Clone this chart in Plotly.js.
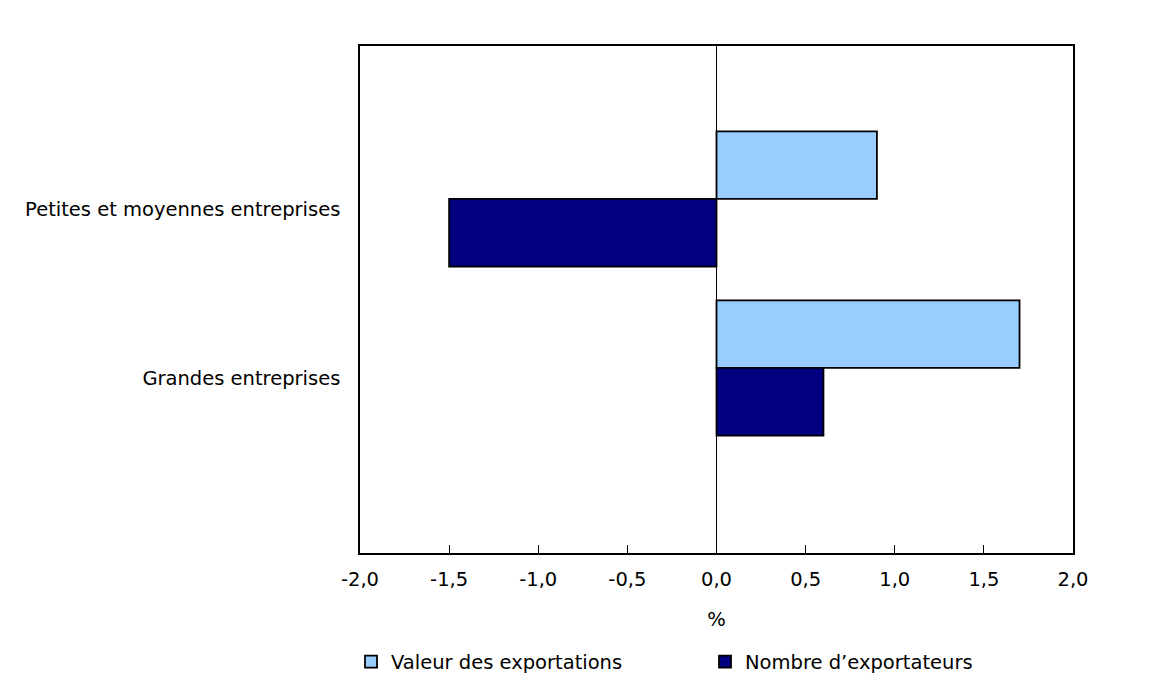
<!DOCTYPE html>
<html>
<head>
<meta charset="utf-8">
<script src="https://cdn.plot.ly/plotly-3.0.1.min.js"></script>
<style>
  html, body { margin: 0; padding: 0; background: #fff; }
  #chart { width: 1161px; height: 684px; }
</style>
</head>
<body>
<div id="chart"></div>
<script>
// catégories (de haut en bas) et variations en %
var categories = ["Petites et moyennes entreprises", "Grandes entreprises"];
var valeurExportations = [0.9, 1.7];
var nombreExportateurs = [-1.5, 0.6];
var seriesNames = ["Valeur des exportations", "Nombre d\u2019exportateurs"];
var xTicks = [-2, -1.5, -1, -0.5, 0, 0.5, 1, 1.5, 2];

var font = "DejaVu Sans, Verdana, sans-serif";
var fs = 19.5;

// étiquettes à la française, trait d'union comme signe moins
var xTickText = xTicks.map(function (v) {
  return v.toFixed(1).replace(".", ",");
});

var traces = [
  {
    type: "bar",
    orientation: "h",
    name: seriesNames[0],
    y: categories,
    x: valeurExportations,
    marker: { color: "#99ccff", line: { color: "#000000", width: 1.8 } },
    hoverinfo: "x+name"
  },
  {
    type: "bar",
    orientation: "h",
    name: seriesNames[1],
    y: categories,
    x: nombreExportateurs,
    marker: { color: "#000080", line: { color: "#000000", width: 1.8 } },
    hoverinfo: "x+name"
  }
];

var layout = {
  width: 1161,
  height: 684,
  margin: { l: 360, r: 88, t: 46, b: 131, autoexpand: false },
  paper_bgcolor: "#ffffff",
  plot_bgcolor: "#ffffff",
  font: { family: font, size: fs, color: "#000000" },
  barmode: "group",
  bargap: 0.2,
  bargroupgap: 0,
  xaxis: {
    range: [-2, 2],
    tickvals: xTicks,
    ticktext: xTickText,
    ticks: "inside",
    ticklen: 8,
    tickcolor: "#000000",
    tickwidth: 1,
    showline: true,
    linecolor: "#000000",
    linewidth: 1.8,
    mirror: true,
    showgrid: false,
    zeroline: true,
    zerolinecolor: "#000000",
    zerolinewidth: 1,
    automargin: false,
    ticklabelstandoff: 8,
    tickfont: { family: font, size: fs, color: "#000000" },
    title: { text: "%", standoff: 22, font: { family: font, size: fs, color: "#000000" } },
    fixedrange: true
  },
  yaxis: {
    type: "category",
    range: [2.095, -0.905],
    ticks: "",
    showline: true,
    linecolor: "#000000",
    linewidth: 1.8,
    mirror: true,
    showgrid: false,
    automargin: false,
    ticklabelstandoff: 14,
    ticklabelshift: -10,
    tickfont: { family: font, size: fs, color: "#000000" },
    fixedrange: true
  },
  showlegend: true,
  legend: {
    orientation: "h",
    x: -0.0126,
    xanchor: "left",
    y: -0.215,
    yanchor: "middle",
    entrywidth: 309,
    entrywidthmode: "pixels",
    traceorder: "normal",
    font: { family: font, size: fs, color: "#000000" },
    bgcolor: "rgba(0,0,0,0)"
  }
};

Plotly.newPlot("chart", traces, layout, { displayModeBar: false, staticPlot: true });
</script>
</body>
</html>
